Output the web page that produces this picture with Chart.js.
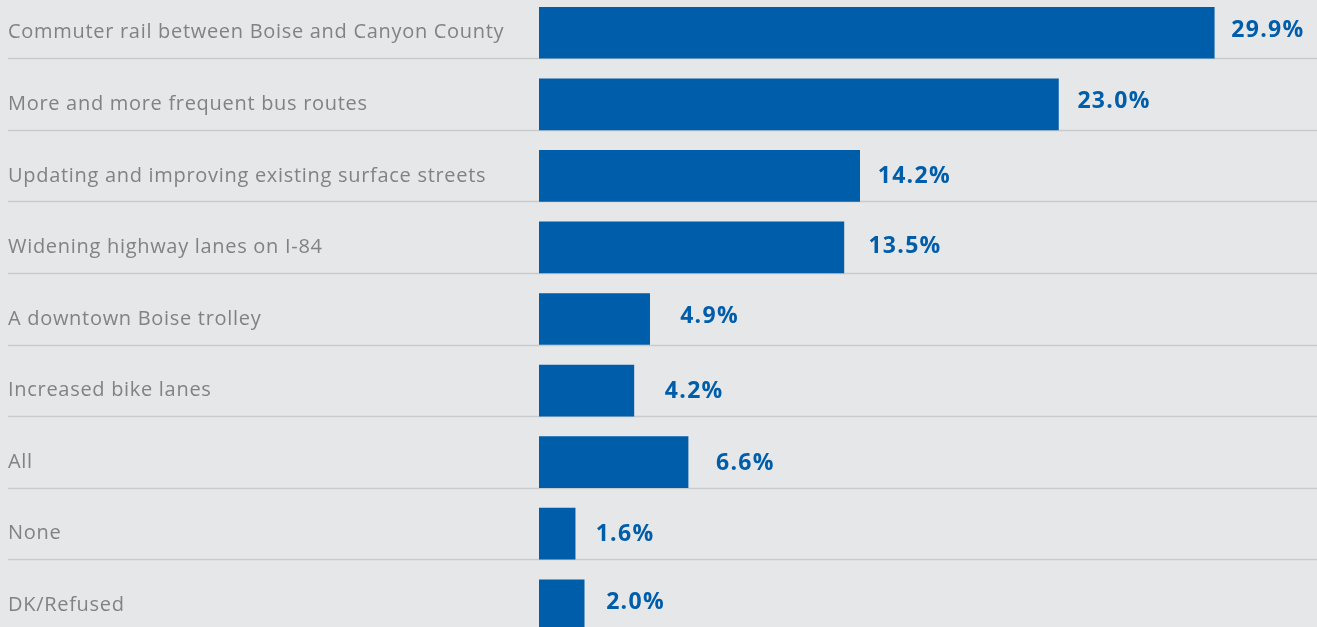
<!DOCTYPE html>
<html>
<head>
<meta charset="utf-8">
<script src="https://cdn.jsdelivr.net/npm/chart.js@4"></script>
<style>
  html, body { margin: 0; padding: 0; overflow: hidden; background: #e6e7e8; width: 1317px; height: 627px; }
  #wrap { position: absolute; left: 0; top: -18px; width: 1317px; height: 674px; }
</style>
</head>
<body>
<div id="wrap"><canvas id="c"></canvas></div>
<script>
const categories = [
  "Commuter rail between Boise and Canyon County",
  "More and more frequent bus routes",
  "Updating and improving existing surface streets",
  "Widening highway lanes on I-84",
  "A downtown Boise trolley",
  "Increased bike lanes",
  "All",
  "None",
  "DK/Refused"
];
const values = [29.9, 23.0, 14.2, 13.5, 4.9, 4.2, 6.6, 1.6, 2.0];
const valueLabels = ["29.9%", "23.0%", "14.2%", "13.5%", "4.9%", "4.2%", "6.6%", "1.6%", "2.0%"];

// label placement nudges (layout only)
const labelGap = [17, 19, 18, 24.5, 30.5, 31, 28, 20.5, 22];
const labelDy  = [-4, -4.5, -1.5, -2.5, -4, -1, -0.5, -1, -4.5];

const BLUE = "#005daa";
const BAR_H = 51;

const sepPlugin = {
  id: "sep",
  beforeDraw(chart) {
    if ('letterSpacing' in chart.ctx) chart.ctx.letterSpacing = "0.7px";
  },
  beforeDatasetsDraw(chart) {
    const ctx = chart.ctx;
    const y = chart.scales.y;
    if ('letterSpacing' in ctx) ctx.letterSpacing = "0px";
    ctx.save();
    ctx.strokeStyle = "#c9cacc";
    ctx.lineWidth = 1.5;
    categories.forEach((c, i) => {
      const py = Math.round(y.getPixelForValue(i) + BAR_H / 2) + 0.5;
      ctx.beginPath();
      ctx.moveTo(8, py);
      ctx.lineTo(chart.width, py);
      ctx.stroke();
    });
    ctx.restore();
  },
  afterDatasetsDraw(chart) {
    const ctx = chart.ctx;
    const meta = chart.getDatasetMeta(0);
    const size = 23;
    ctx.save();
    ctx.fillStyle = BLUE;
    ctx.font = "bold " + size + "px 'Open Sans'";
    ctx.textBaseline = "alphabetic";
    ctx.textAlign = "left";
    if ('letterSpacing' in ctx) ctx.letterSpacing = "1.3px";
    meta.data.forEach((bar, i) => {
      ctx.fillText(valueLabels[i], bar.x + labelGap[i], bar.y + labelDy[i] + size * 0.714 / 2);
    });
    ctx.restore();
    if ('letterSpacing' in ctx) ctx.letterSpacing = "0px";
  }
};

new Chart(document.getElementById("c"), {
  type: "bar",
  data: {
    labels: categories,
    datasets: [{
      data: values,
      backgroundColor: BLUE,
      barThickness: BAR_H,
      borderWidth: 0
    }]
  },
  options: {
    indexAxis: "y",
    responsive: true,
    maintainAspectRatio: false,
    animation: false,
    layout: { padding: { left: 8, right: 0, top: 0, bottom: 0 } },
    plugins: { legend: { display: false }, tooltip: { enabled: false } },
    scales: {
      x: { display: false, min: 0, max: 34.45 },
      y: {
        grid: { display: false },
        border: { display: false },
        afterFit(scale) { scale.width = 531; },
        ticks: {
          crossAlign: "far",
          labelOffset: 0,
          color: "#808285",
          font: { family: "'Open Sans'", size: 20 }
        }
      }
    }
  },
  plugins: [sepPlugin]
});
</script>
</body>
</html>
